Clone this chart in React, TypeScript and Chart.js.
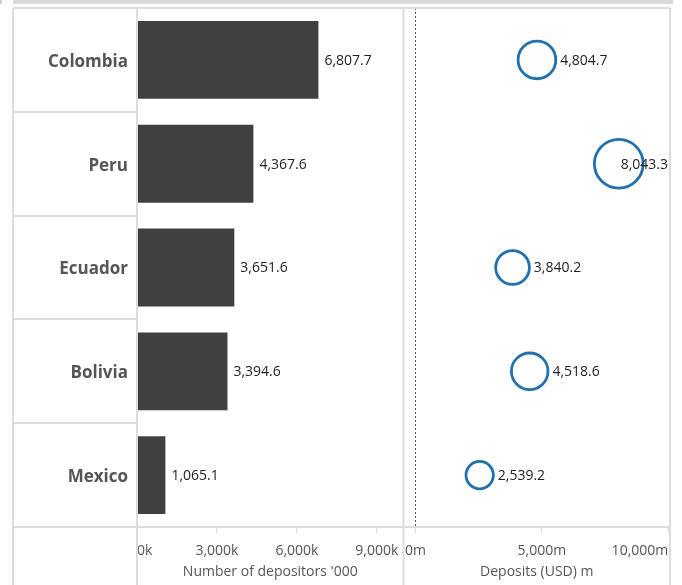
import React, { useEffect, useRef } from 'react';
import { Chart, registerables } from 'chart.js';

Chart.register(...registerables);

// ---- data ----
const countries = ['Colombia', 'Peru', 'Ecuador', 'Bolivia', 'Mexico'];
const depositors = [6807.7, 4367.6, 3651.6, 3394.6, 1065.1]; // '000
const deposits = [4804.7, 8043.3, 3840.2, 4518.6, 2539.2]; // USD m
const depositorTicks = [0, 3000, 6000, 9000];
const depositTicks = [0, 5000, 10000];
const depositorsTitle = "Number of depositors '000";
const depositsTitle = 'Deposits (USD) m';

// ---- style constants ----
const FONT = '"Open Sans", "Noto Sans", sans-serif';
const FRAME = '#dcdcdc';
const BAR_COLOR = '#404040';
const BUBBLE_COLOR = '#2070b2';
const BUBBLE_BW = 2.8;
const RADIUS_SCALE = 0.272;
const X1_MAX = 10000;
const X2_MIN = -475;
const X2_MAX = 10070;

const fmt1 = (v: number) =>
  v.toLocaleString('en-US', { minimumFractionDigits: 1, maximumFractionDigits: 1 });

const framePlugin = {
  id: 'frame',
  afterDraw(chart: any) {
    const { ctx, chartArea, scales } = chart;
    const h = chart.height;
    const left = scales.y.left;
    const right = chartArea.right;
    ctx.save();
    ctx.strokeStyle = FRAME;
    ctx.lineWidth = 2;
    ctx.beginPath();
    ctx.moveTo(left, chartArea.top);
    ctx.lineTo(right, chartArea.top);
    [left, chartArea.left, scales.x.right, right].forEach((x: number) => {
      ctx.moveTo(x, chartArea.top);
      ctx.lineTo(x, h);
    });
    ctx.stroke();
    ctx.restore();
  },
};

const labelPlugin = {
  id: 'valueLabels',
  afterDatasetsDraw(chart: any) {
    const ctx = chart.ctx;
    ctx.save();
    ctx.font = `14px ${FONT}`;
    ctx.fillStyle = '#222';
    ctx.textBaseline = 'middle';
    ctx.textAlign = 'left';
    const barMeta = chart.getDatasetMeta(0);
    barMeta.data.forEach((el: any, i: number) => {
      ctx.fillText(fmt1(depositors[i]), el.x + 6, el.y + 1);
    });
    const bubMeta = chart.getDatasetMeta(1);
    const limit = chart.scales.x2.right - 2;
    bubMeta.data.forEach((el: any, i: number) => {
      const text = fmt1(deposits[i]);
      const w = ctx.measureText(text).width;
      let x = el.x + el.options.radius + BUBBLE_BW / 2 + 3;
      if (x + w > limit) x = limit - w;
      ctx.fillText(text, x, el.y + 1);
    });
    ctx.restore();
  },
};

export default function App() {
  const ref = useRef<HTMLCanvasElement | null>(null);

  useEffect(() => {
    if (!ref.current) return;
    const tickFont = { family: FONT, size: 14 };
    const titleFont = { family: FONT, size: 14 };
    const chart = new Chart(ref.current, {
      type: 'bar',
      data: {
        labels: countries,
        datasets: [
          {
            type: 'bar',
            indexAxis: 'y',
            grouped: false,
            data: depositors,
            xAxisID: 'x',
            yAxisID: 'y',
            backgroundColor: BAR_COLOR,
            barPercentage: 0.75,
            categoryPercentage: 1,
          } as any,
          {
            type: 'bubble',
            data: countries.map((c, i) => ({
              x: deposits[i],
              y: i,
              r: RADIUS_SCALE * Math.sqrt(deposits[i]),
            })),
            xAxisID: 'x2',
            yAxisID: 'y',
            backgroundColor: 'rgba(255,255,255,0)',
            borderColor: BUBBLE_COLOR,
            borderWidth: BUBBLE_BW,
          } as any,
        ],
      },
      options: {
        indexAxis: 'y',
        animation: false,
        responsive: false,
        events: [],
        layout: { autoPadding: false, padding: { left: 13, top: 8, right: 12, bottom: 0 } },
        plugins: {
          legend: { display: false },
          tooltip: { enabled: false },
          title: { display: false },
        },
        scales: {
          y: {
            type: 'category',
            position: 'left',
            offset: true,
            afterFit: (s: any) => {
              s.width = 124;
            },
            grid: {
              offset: true,
              drawOnChartArea: false,
              drawTicks: true,
              tickLength: 124,
              tickColor: FRAME,
              tickWidth: 2,
              color: FRAME,
              lineWidth: 2,
            },
            border: { display: true, color: FRAME, width: 2 },
            ticks: {
              padding: 9 - 124,
              labelOffset: 2,
              color: '#555',
              font: { family: FONT, size: 17, weight: 'bold' },
            },
          } as any,
          x: {
            type: 'linear',
            position: 'bottom',
            stack: 'bottom',
            stackWeight: 1,
            offset: false,
            min: 0,
            max: X1_MAX,
            afterBuildTicks: (s: any) => {
              s.ticks = [...depositorTicks, X1_MAX].map((v) => ({ value: v }));
            },
            afterFit: (s: any) => {
              s.height = 58;
            },
            grid: {
              offset: false,
              drawOnChartArea: false,
              drawTicks: true,
              tickLength: 6,
              tickColor: FRAME,
              tickWidth: 1,
            },
            border: { display: true, color: FRAME, width: 2 },
            ticks: {
              align: 'inner',
              autoSkip: false,
              maxRotation: 0,
              padding: 10,
              color: '#555',
              font: tickFont,
              callback: (v: any) =>
                depositorTicks.includes(v) ? Number(v).toLocaleString('en-US') + 'k' : '',
            },
            title: {
              display: true,
              text: depositorsTitle,
              color: '#555',
              font: titleFont,
              padding: { top: 4, bottom: 5 },
            },
          } as any,
          x2: {
            type: 'linear',
            position: 'bottom',
            stack: 'bottom',
            stackWeight: 1,
            offset: false,
            min: X2_MIN,
            max: X2_MAX,
            afterBuildTicks: (s: any) => {
              s.ticks = [X2_MIN, ...depositTicks].map((v) => ({ value: v }));
            },
            afterFit: (s: any) => {
              s.height = 58;
            },
            grid: {
              offset: false,
              drawOnChartArea: true,
              drawTicks: true,
              tickLength: 6,
              tickColor: FRAME,
              tickWidth: 1,
              lineWidth: 1,
              color: (c: any) =>
                c.tick && c.tick.value === 0 ? '#555' : 'rgba(0,0,0,0)',
            },
            border: { display: true, color: FRAME, width: 2, dash: [2, 2] },
            ticks: {
              align: 'inner',
              autoSkip: false,
              maxRotation: 0,
              padding: 10,
              color: '#555',
              font: tickFont,
              callback: (v: any) =>
                depositTicks.includes(v) ? Number(v).toLocaleString('en-US') + 'm' : '',
            },
            title: {
              display: true,
              text: depositsTitle,
              color: '#555',
              font: titleFont,
              padding: { top: 4, bottom: 5 },
            },
          } as any,
        },
      },
      plugins: [framePlugin, labelPlugin],
    } as any);
    return () => chart.destroy();
  }, []);

  return (
    <div style={{ position: 'absolute', left: 0, top: 0, width: 682, height: 585, background: '#fff' }}>
      <div style={{ position: 'absolute', left: 0, top: 0, width: 2, height: 4, background: '#cfcfcf' }} />
      <div style={{ position: 'absolute', left: 13, top: 0, width: 660, height: 4, background: '#d9d9d9' }} />
      <canvas
        ref={ref}
        width={682}
        height={585}
        style={{ position: 'absolute', left: 0, top: 0, width: 682, height: 585, display: 'block' }}
      />
    </div>
  );
}
